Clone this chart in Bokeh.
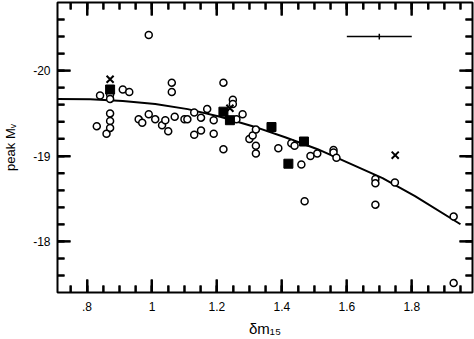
import numpy as np
from bokeh.plotting import figure
from bokeh.models import Range1d, FixedTicker, LinearAxis, CustomJSTickFormatter
from bokeh.embed import file_html
from bokeh.resources import INLINE

# ---- data ----
circle_x = [0.99, 0.84, 0.871, 0.871, 0.871, 0.871, 0.871, 0.86, 0.83, 0.91, 0.93,
            0.959, 0.97, 0.99, 1.01, 1.031, 1.041, 1.05, 1.061, 1.061, 1.07, 1.10,
            1.109, 1.13, 1.13, 1.151, 1.151, 1.17, 1.19, 1.19, 1.22, 1.22, 1.249,
            1.249, 1.26, 1.279, 1.30, 1.31, 1.32, 1.32, 1.32, 1.389, 1.429, 1.439,
            1.46, 1.47, 1.488, 1.509, 1.559, 1.559, 1.568, 1.688, 1.688, 1.688,
            1.748, 1.929, 1.929]
circle_y = [-20.42, -19.71, -19.72, -19.67, -19.50, -19.41, -19.33, -19.26, -19.35,
            -19.78, -19.75, -19.43, -19.39, -19.49, -19.43, -19.36, -19.42, -19.29,
            -19.86, -19.75, -19.46, -19.43, -19.43, -19.51, -19.25, -19.45, -19.30,
            -19.55, -19.42, -19.26, -19.86, -19.08, -19.66, -19.61, -19.43, -19.49,
            -19.20, -19.24, -19.31, -19.12, -19.03, -19.09, -19.15, -19.12, -18.90,
            -18.47, -19.00, -19.03, -19.07, -19.04, -18.98, -18.73, -18.68, -18.43,
            -18.69, -18.29, -17.51]

square_x = [0.871, 1.22, 1.24, 1.368, 1.42, 1.468]
square_y = [-19.78, -19.52, -19.42, -19.34, -18.91, -19.17]

cross_x = [0.871, 1.24, 1.749]
cross_y = [-19.90, -19.56, -19.01]

curve_x = [0.71, 0.81, 0.91, 1.01, 1.11, 1.21, 1.31, 1.41, 1.51, 1.61, 1.71, 1.81, 1.95]
curve_y = [-19.67, -19.665, -19.645, -19.61, -19.55, -19.46, -19.35, -19.22, -19.08,
           -18.91, -18.74, -18.53, -18.20]

err_x, err_dx = 1.70, 0.10
err_y, err_dy = -20.40, 0.035

x_ticks = [0.8, 1.0, 1.2, 1.4, 1.6, 1.8]
x_tick_labels = [".8", "1", "1.2", "1.4", "1.6", "1.8"]
y_ticks = [-20.0, -19.0, -18.0]
y_tick_labels = ["-20", "-19", "-18"]

x_title = "δm₁₅"
y_title = "peak Mᵥ"

x_lo, x_hi = 0.709, 1.987
y_lo, y_hi = -17.4, -20.8

W, H = 474, 339
B_LEFT, B_RIGHT, B_TOP, B_BOTTOM = 57, 2, 2, 45

p = figure(width=W, height=H,
           x_range=Range1d(x_lo, x_hi), y_range=Range1d(y_lo, y_hi),
           output_backend="svg", toolbar_location=None,
           min_border_left=B_LEFT, min_border_right=B_RIGHT,
           min_border_top=B_TOP, min_border_bottom=B_BOTTOM)
p.grid.grid_line_color = None
p.outline_line_color = "black"
p.outline_line_width = 2

x_minor = [float(v) for v in np.round(np.arange(0.75, 1.97, 0.05), 3)]
y_minor = [float(v) for v in np.round(np.arange(-20.6, -17.41, 0.2), 3)]

LABEL_JS = "return labels[index] === undefined ? '' : labels[index];"

def style(ax, ticks, minor, labels):
    ax.ticker = FixedTicker(ticks=ticks, minor_ticks=minor)
    ax.formatter = CustomJSTickFormatter(args=dict(labels=labels), code=LABEL_JS)
    ax.axis_line_width = 1
    ax.axis_line_color = "black"
    ax.major_tick_in = 13
    ax.major_tick_out = 0
    ax.minor_tick_in = 7
    ax.minor_tick_out = 0
    ax.major_tick_line_color = "black"
    ax.minor_tick_line_color = "black"
    ax.major_tick_line_width = 2
    ax.minor_tick_line_width = 2
    ax.major_label_text_font_size = "12px"
    ax.major_label_text_color = "black"
    ax.axis_label_text_font_style = "normal"
    ax.axis_label_text_color = "black"

xa = p.xaxis[0]
style(xa, x_ticks, x_minor, x_tick_labels)
xa.major_label_standoff = 9
xa.axis_label = x_title
xa.axis_label_standoff = 6
xa.axis_label_text_font_size = "15px"

ya = p.yaxis[0]
style(ya, y_ticks, y_minor, y_tick_labels)
ya.major_label_standoff = 7
ya.axis_label = y_title
ya.axis_label_standoff = 12
ya.axis_label_text_font_size = "13px"

top = LinearAxis()
style(top, x_ticks, x_minor, [])
top.major_label_text_font_size = "0px"
top.major_label_standoff = 0
p.add_layout(top, "above")

right = LinearAxis()
style(right, y_ticks, y_minor, [])
right.major_label_text_font_size = "0px"
right.major_label_standoff = 0
p.add_layout(right, "right")

# backup inward tick marks drawn as segments from the frame edges (same spots)
frame_w = W - B_LEFT - B_RIGHT
frame_h = H - B_TOP - B_BOTTOM
px_x = (x_hi - x_lo) / frame_w
px_y = (y_hi - y_lo) / frame_h

def ticks_x(vals, length):
    d = length * px_y
    n = len(vals)
    xs = list(vals) * 2
    p.segment(x0=xs, x1=xs, y0=[y_lo] * n + [y_hi] * n,
              y1=[y_lo + d] * n + [y_hi - d] * n,
              line_color="#010101", line_width=2)

def ticks_y(vals, length):
    d = length * px_x
    n = len(vals)
    ys = list(vals) * 2
    p.segment(x0=[x_lo] * n + [x_hi] * n, x1=[x_lo + d] * n + [x_hi - d] * n,
              y0=ys, y1=ys, line_color="#010101", line_width=2)

ticks_x(x_minor, 7)
ticks_x(x_ticks, 13)
ticks_y(y_minor, 7)
ticks_y(y_ticks, 13)

# curve
p.line(curve_x, curve_y, line_color="black", line_width=2)

# points
p.scatter(circle_x, circle_y, marker="circle", size=7, fill_color="white",
          line_color="black", line_width=1.5)
p.scatter(square_x, square_y, marker="square", size=9, fill_color="black",
          line_color="black")
p.scatter(cross_x, cross_y, marker="x", size=10, line_color="black", line_width=2)

# error bar
p.segment(x0=[err_x - err_dx], x1=[err_x + err_dx], y0=[err_y], y1=[err_y],
          line_color="black", line_width=1.5)
p.segment(x0=[err_x], x1=[err_x], y0=[err_y - err_dy], y1=[err_y + err_dy],
          line_color="black", line_width=1.5)

open("out.html", "w").write(file_html(p, INLINE))
